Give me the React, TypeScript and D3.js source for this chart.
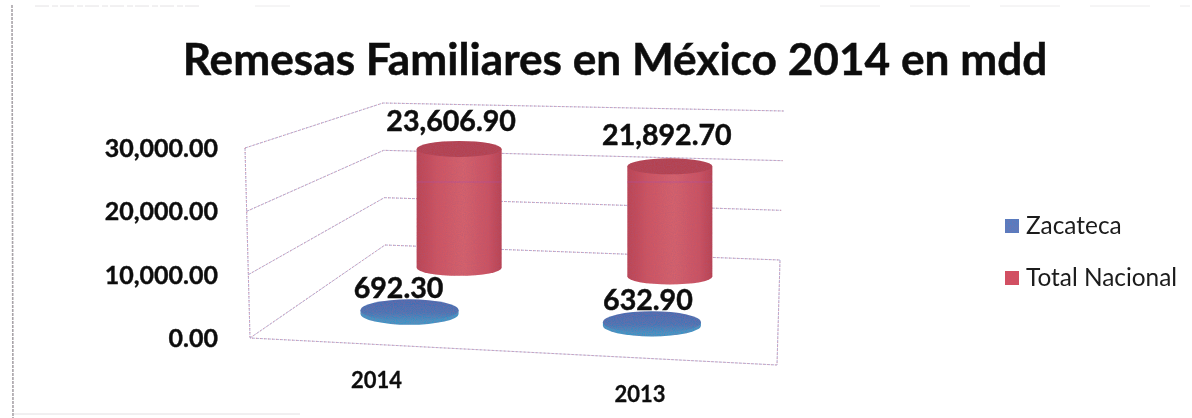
import * as d3 from 'd3';
import React from 'react';

const categories = ['2014', '2013'];
const seriesNames = ['Zacateca', 'Total Nacional'];
const zacatecaValues = [692.3, 632.9];
const totalValues = [23606.9, 21892.7];
const tickValues = [0, 10000, 20000, 30000];

const seriesValues = [zacatecaValues, totalValues];

// floor corners of the 3d box, as the scan shows them
const frontLeft = { x: 250, y: 338 };
const frontRight = { x: 777, y: 365 };
const backLeft = { x: 385, y: 245 };
const backRight = { x: 780, y: 260 };

// top corners of the walls
const topFrontLeft = { x: 245, y: 148 };
const topBackLeft = { x: 383, y: 103 };
const topBackRight = { x: 784, y: 111 };

const uScale = d3.scalePoint<string>().domain(categories).range([0.24, 0.74]);
const vScale = d3.scalePoint<string>().domain(seriesNames).range([0.32, 0.8]);
const heightScale = d3.scaleLinear().domain([0, 30000]).range([0, 151]);
const fraction = d3.scaleLinear().domain([0, 30000]).range([0, 1]);
const valueFormat = d3.format(',.2f');
const lerp = (a: number, b: number, t: number) => d3.interpolateNumber(a, b)(t);

const floorPoint = (u: number, v: number) => {
	const lx = lerp(frontLeft.x, backLeft.x, v);
	const ly = lerp(frontLeft.y, backLeft.y, v);
	const rx = lerp(frontRight.x, backRight.x, v);
	const ry = lerp(frontRight.y, backRight.y, v);
	return { x: lerp(lx, rx, u), y: lerp(ly, ry, u) };
};

const edgePoint = (bottom: { x: number; y: number }, top: { x: number; y: number }, value: number) => ({
	x: lerp(bottom.x, top.x, fraction(value)),
	y: lerp(bottom.y, top.y, fraction(value)),
});

const lineGen = d3.line<{ x: number; y: number }>().x((p) => p.x).y((p) => p.y);

const radiusX = [49, 42.5];
const radiusY = [11, 8];
const seriesColors = ['#4f7fc4', '#d8505f'];
// label offset from the top of each cylinder: [series][category]
const labelNudge = [
	[{ dx: -11, dy: -12 }, { dx: -4, dy: -12 }],
	[{ dx: -8, dy: -18 }, { dx: -3, dy: -21 }],
];
const scanLineY = 182;

const font = 'Lato, "Open Sans", sans-serif';

const GridLine = ({ points }: { points: { x: number; y: number }[] }) => (
	<g fill="none" strokeWidth={1}>
		<path d={lineGen(points) ?? ''} stroke="#b4aed6" strokeDasharray="3 1" />
		<path d={lineGen(points) ?? ''} stroke="#dc98a8" strokeDasharray="1 3" />
	</g>
);

export default function App(): React.JSX.Element {
	const cylinders = seriesNames.flatMap((name, s) =>
		categories.map((cat, c) => {
			const base = floorPoint(uScale(cat) ?? 0, vScale(name) ?? 0);
			return { s, c, base, value: seriesValues[s][c], h: heightScale(seriesValues[s][c]) };
		}),
	);

	return (
		<svg width={1192} height={418} style={{ position: 'absolute', left: 0, top: 0, background: '#fff' }} fontFamily={font}>
			<defs>
				<linearGradient id="redSide" x1="0" x2="1" y1="0" y2="0">
					<stop offset="0" stopColor="#bc4452" />
					<stop offset="0.25" stopColor="#cf5561" />
					<stop offset="0.55" stopColor="#d6626c" />
					<stop offset="0.85" stopColor="#cc5260" />
					<stop offset="1" stopColor="#b94250" />
				</linearGradient>
				<linearGradient id="blueSide" x1="0" x2="0" y1="0" y2="1">
					<stop offset="0" stopColor="#3f6db4" />
					<stop offset="0.6" stopColor="#3f78b8" />
					<stop offset="1" stopColor="#3596c8" />
				</linearGradient>
				<filter id="grain" x="-5%" y="-5%" width="110%" height="110%">
					<feTurbulence type="fractalNoise" baseFrequency="0.9" numOctaves={2} seed={4} result="n" />
					<feColorMatrix in="n" type="matrix" values="0 0 0 0 0.35  0 0 0 0 0.1  0 0 0 0 0.2  0 0 0 0.7 -0.22" result="dark" />
					<feComposite in="dark" in2="SourceAlpha" operator="in" result="speck" />
					<feMerge>
						<feMergeNode in="SourceGraphic" />
						<feMergeNode in="speck" />
					</feMerge>
				</filter>
				<filter id="soft">
					<feGaussianBlur stdDeviation="0.4" />
				</filter>
			</defs>

			{/* scan edges of the page */}
			<g fill="none" filter="url(#soft)">
				<path d={lineGen([{ x: 12, y: 5 }, { x: 13, y: 418 }]) ?? ''} stroke="#a9a4a9" strokeWidth={1.6} strokeDasharray="3 1" />
				<path d={lineGen([{ x: 35, y: 6 }, { x: 200, y: 6 }]) ?? ''} stroke="#e4e2e4" strokeDasharray="14 3 6 2" />
				<path d={lineGen([{ x: 255, y: 6 }, { x: 290, y: 6 }]) ?? ''} stroke="#ecebec" />
				<path d={lineGen([{ x: 820, y: 6 }, { x: 1190, y: 6 }]) ?? ''} stroke="#ecebec" strokeDasharray="60 30" />
				<path d={lineGen([{ x: 14, y: 414 }, { x: 300, y: 414 }]) ?? ''} stroke="#e2e0e2" />
			</g>

			<text x={615} y={75} textAnchor="middle" fontSize={44.2} fontWeight={700} fill="#111" stroke="#111" strokeWidth={0.5} filter="url(#soft)">
				Remesas Familiares en México 2014 en mdd
			</text>

			{/* walls and floor */}
			{tickValues.map((t) => {
				const a = edgePoint(frontLeft, topFrontLeft, t);
				const b = edgePoint(backLeft, topBackLeft, t);
				const c = edgePoint(backRight, topBackRight, t);
				return (
					<g key={t}>
						<GridLine points={[a, b, c]} />
						<text x={218} y={a.y + 9} textAnchor="end" fontSize={25} fontWeight={700} fill="#111" stroke="#111" strokeWidth={0.4} filter="url(#soft)">
							{valueFormat(t)}
						</text>
					</g>
				);
			})}
			<GridLine points={[topFrontLeft, frontLeft, frontRight, backRight]} />

			{/* cylinders, back series first */}
			{[...cylinders].reverse().map(({ s, c, base, h }) => {
				const rx = radiusX[s];
				const ry = radiusY[s];
				const top = base.y - h;
				const side = `M${base.x - rx},${top}L${base.x - rx},${base.y}A${rx},${ry} 0 0 0 ${base.x + rx},${base.y}L${base.x + rx},${top}Z`;
				return (
					<g key={`${s}-${c}`} filter="url(#grain)">
						<path d={side} fill={s === 1 ? 'url(#redSide)' : '#3596c8'} />
						<ellipse cx={base.x} cy={top} rx={rx} ry={ry} fill={s === 1 ? '#b5424f' : 'url(#blueSide)'} />
						{s === 1 && (
							<path d={lineGen([{ x: base.x - rx, y: scanLineY }, { x: base.x + rx, y: scanLineY }]) ?? ''} stroke="#b04fb0" strokeOpacity={0.55} />
						)}
					</g>
				);
			})}

			{/* value labels */}
			{cylinders.map(({ s, c, base, h, value }) => (
				<text
					key={`label-${s}-${c}`}
					x={base.x + labelNudge[s][c].dx}
					y={base.y - h + labelNudge[s][c].dy}
					textAnchor="middle"
					fontSize={28.6}
					fontWeight={700}
					fill="#111"
					stroke="#111"
					strokeWidth={0.5}
					filter="url(#soft)"
				>
					{valueFormat(value)}
				</text>
			))}

			{/* category labels under the front edge */}
			{categories.map((cat) => {
				const p = floorPoint(uScale(cat) ?? 0, 0);
				return (
					<text key={cat} x={p.x} y={p.y + 44} textAnchor="middle" fontSize={22} fontWeight={700} fill="#111" stroke="#111" strokeWidth={0.3} filter="url(#soft)">
						{cat}
					</text>
				);
			})}

			{/* legend */}
			{seriesNames.map((name, i) => (
				<g key={name} transform={`translate(1005, ${219 + i * 52})`}>
					<rect width={14} height={14} fill={seriesColors[i]} filter="url(#grain)" />
					<text x={21} y={15} fontSize={24.4} fill="#1a1a1a" filter="url(#soft)">
						{name}
					</text>
				</g>
			))}
		</svg>
	);
}
